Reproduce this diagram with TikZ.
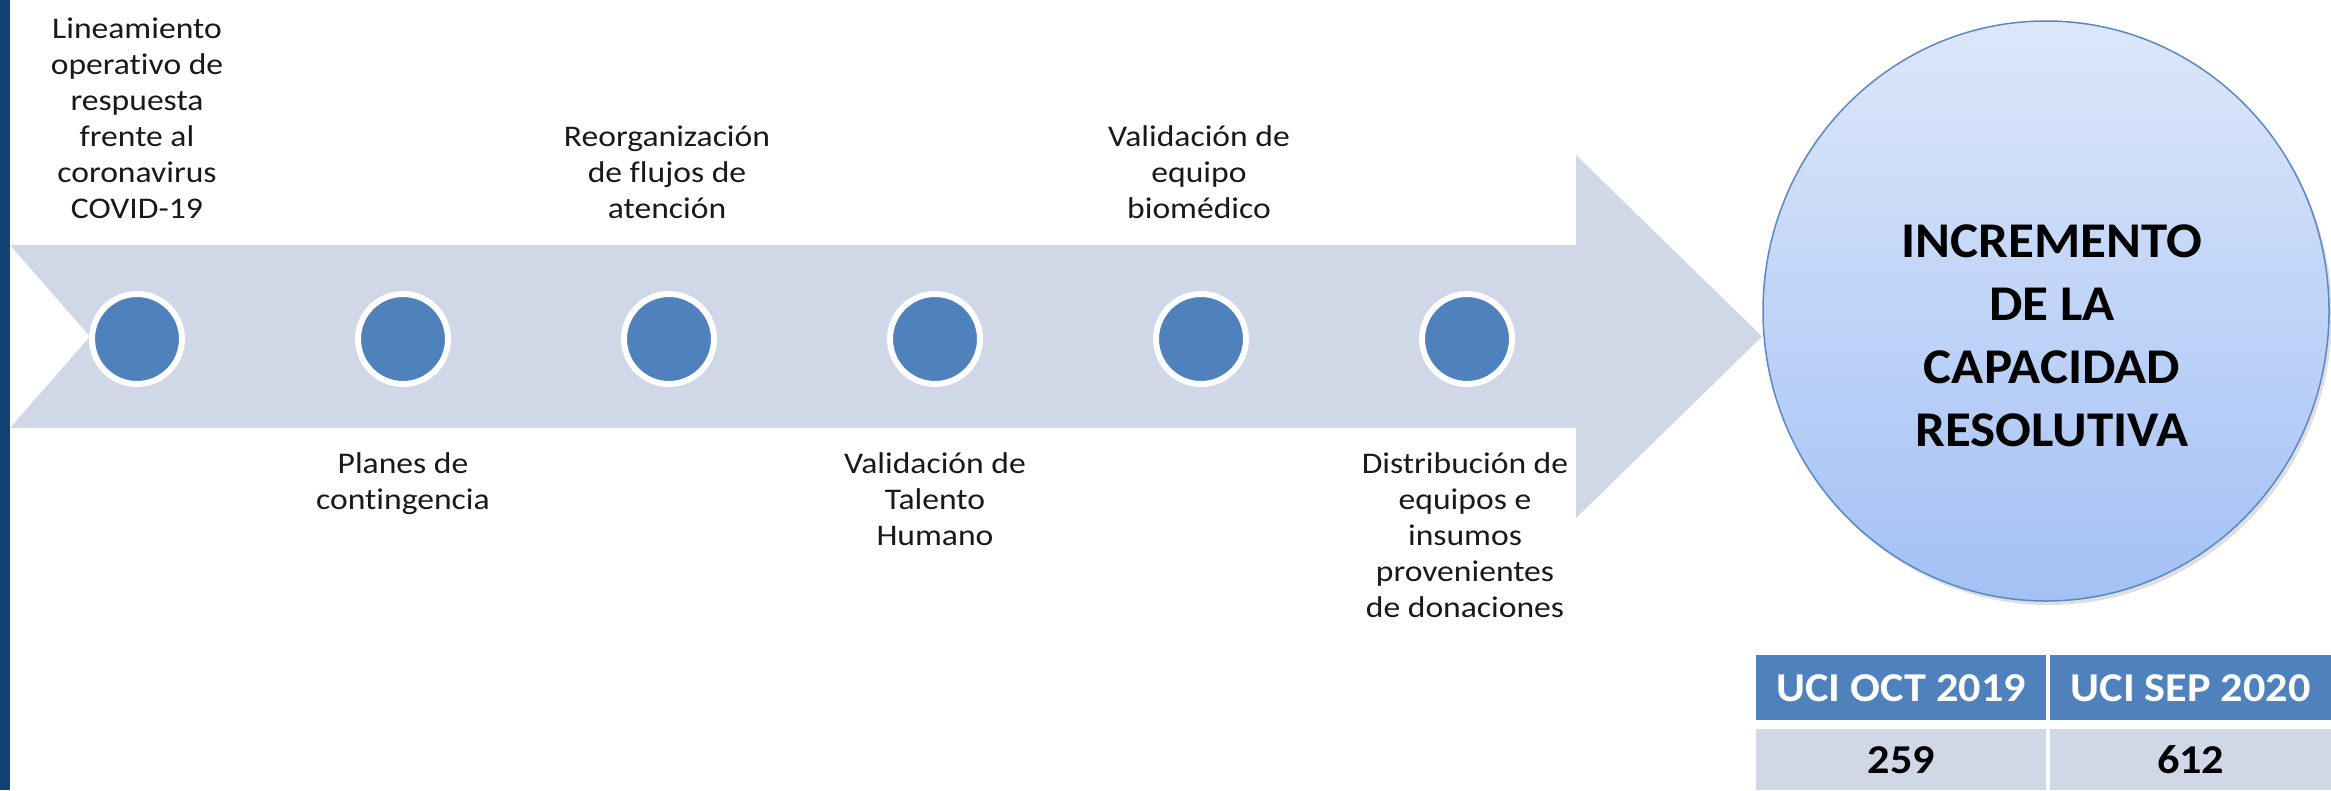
\documentclass[tikz,border=0pt]{standalone}
\usepackage{fontspec}
\setmainfont{Carlito}[Ligatures=NoCommon]
\newfontfamily\labfont[FakeStretch=1.12,Ligatures=NoCommon]{Carlito}
\newfontfamily\goalfont[FakeStretch=1.06,Ligatures=NoCommon]{Carlito}
\newfontfamily\tabfont[FakeStretch=1.08,Ligatures=NoCommon]{Carlito}
\usetikzlibrary{shapes.geometric,shadows}
\definecolor{darkbar}{HTML}{12426F}
\definecolor{arrowfill}{HTML}{D0D8E8}
\definecolor{dotblue}{HTML}{4F81BD}
\definecolor{goaltop}{HTML}{DDE7FA}
\definecolor{goalbot}{HTML}{A3C1F5}
\definecolor{goaledge}{HTML}{5A88C4}
\begin{document}
\begin{tikzpicture}[x=1pt,y=-1pt,
  dot/.style={circle,minimum size=90pt,inner sep=0pt,fill=dotblue,draw=white,line width=6pt},
  toplab/.style={anchor=south,align=center,inner sep=0pt,text depth=0pt,
    font=\labfont\fontsize{30}{36}\selectfont,text=black!90},
  botlab/.style={toplab},
  goal/.style={ellipse,minimum width=566pt,minimum height=580pt,inner sep=0pt,
    top color=goaltop,bottom color=goalbot,draw=goaledge,line width=1.5pt,
    drop shadow={shadow xshift=3pt,shadow yshift=-4pt,opacity=0.25}},
  goaltext/.style={anchor=south,align=center,inner sep=0pt,text depth=0pt,
    font=\goalfont\bfseries\fontsize{50}{63}\selectfont},
  hdr/.style={anchor=north west,inner sep=0pt,fill=dotblue,text=white,
    font=\tabfont\bfseries\fontsize{41}{46}\selectfont},
  dat/.style={anchor=north west,inner sep=0pt,fill=arrowfill,text=black,
    font=\tabfont\bfseries\fontsize{41}{46}\selectfont}]
\useasboundingbox (0,0) rectangle (2331,790);
\fill[white] (0,0) rectangle (2331,790);
\fill[darkbar] (0,0) rectangle (10,790);
% timeline arrow
\fill[arrowfill] (10,245) -- (1576,245) -- (1576,155) -- (1762,336.5) -- (1576,518)
  -- (1576,428) -- (10,428) -- (90,336.5) -- cycle;
% dots
\foreach \i/\x in {1/137,2/403,3/669,4/935,5/1201,6/1467}
  \node[dot] (c\i) at (\x,339) {};
% labels above
\node[toplab] (l1) at (137,219) {Lineamiento\\operativo de\\respuesta\\frente al\\coronavirus\\COVID-19};
\node[toplab] (l3) at (667,219) {Reorganización\\de flujos de\\atención};
\node[toplab] (l5) at (1199,219) {Validación de\\equipo\\biomédico};
% labels below
\node[botlab] (l2) at (403,510) {Planes de\\contingencia};
\node[botlab] (l4) at (935,546) {Validación de\\Talento\\Humano};
\node[botlab] (l6) at (1465,618) {Distribución de\\equipos e\\insumos\\provenientes\\de donaciones};
% goal circle
\node[goal] (g) at (2046,311) {};
\node[goaltext] (gt) at (2052,447) {INCREMENTO\\DE LA\\CAPACIDAD\\RESOLUTIVA};
% table
\node[hdr,minimum width=290pt,minimum height=65pt] (h1) at (1756,655) {UCI OCT 2019};
\node[hdr,minimum width=281pt,minimum height=65pt] (h2) at (2050,655) {UCI SEP 2020};
\node[dat,minimum width=290pt,minimum height=61pt] (d1) at (1756,729) {259};
\node[dat,minimum width=281pt,minimum height=61pt] (d2) at (2050,729) {612};
\end{tikzpicture}
\end{document}
